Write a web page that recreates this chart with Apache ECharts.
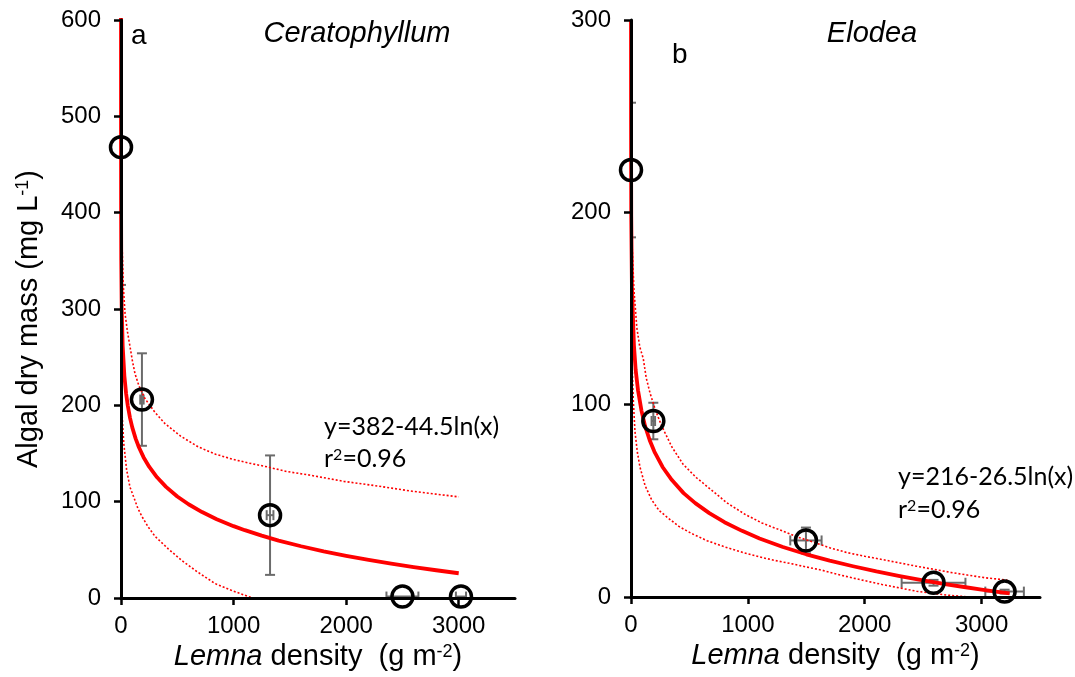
<!DOCTYPE html>
<html>
<head>
<meta charset="utf-8">
<script src="https://cdn.jsdelivr.net/npm/echarts@6/dist/echarts.min.js"></script>
<style>
html,body{margin:0;padding:0;background:#fff;}
#chart{width:1075px;height:677px;}
</style>
</head>
<body>
<div id="chart"></div>
<script>
// ---------- DATA ----------
// Panel a: Ceratophyllum
const ceratoX    = [0, 186, 1324, 2500, 3020];
const ceratoY    = [468, 206, 86, 1.5, 1.5];
const ceratoXErr = [0, 15, 30, 142, 45];
const ceratoYErr = [143, 48, 62, 0, 0];
const ceratoFit   = [[0.007,603],[0.02,556],[0.1,484.5],[0.5,412.8],[2,351.2],[6,302.3],[15,261.5],[30,230.6],[45,212.6],[60,199.8],[80,187],[100,177.1],[130,165.4],[160,156.2],[200,146.2],[250,136.3],[320,125.3],[400,115.4],[500,105.4],[600,97.3],[720,89.2],[850,81.8],[1000,74.6],[1100,70.4],[1250,64.7],[1400,59.6],[1600,53.7],[1800,48.4],[2000,43.8],[2200,39.5],[2400,35.6],[2600,32.1],[2800,28.8],[3000,25.7]];
const ceratoUpper = [[0.05,600],[1,470],[5,385],[20,325],[36,295],[58,276],[80,261],[100,247],[124,233],[160,220],[213,207],[300,193],[391,181],[530,168],[687,156.8],[840,149.3],[984,144.3],[1130,140.2],[1280,136.6],[1470,131.4],[1674,127.6],[1979,121.1],[2283,116.2],[2587,110.8],[2800,107.8],[3000,105]];
const ceratoLower = [[0.002,600],[0.02,450],[0.5,330],[3,230],[10,190],[25,160],[50,133],[80,115],[122,102],[150,93],[184,85],[240,74],[302,64],[420,51],[539,39],[680,27],[836,15],[980,8],[1132,1.5],[1170,0]];

// Panel b: Elodea
const elodeaX    = [0, 191, 1497, 2589, 3197];
const elodeaY    = [222, 91.5, 29.4, 7.4, 2.8];
const elodeaXErr = [0, 15, 134, 273, 165];
const elodeaYErr = [35, 9.5, 6.7, 1.5, 1];
const elodeaFit   = [[0.04,300],[0.3,248],[2,198],[8,161],[25,131],[40,118],[60,107.5],[90,96.8],[120,89],[160,81.5],[200,75.6],[270,67.6],[350,60.8],[450,54],[550,48.8],[670,43.6],[800,38.9],[950,34.4],[1100,30.4],[1300,26],[1500,22.2],[1700,18.9],[1900,16],[2100,13.3],[2300,10.9],[2500,8.7],[2700,6.6],[2850,5.2],[3000,3.8],[3120,2.8],[3240,1.9]];
const elodeaUpper = [[0.02,300],[0.5,250],[3,210],[10,182],[25,160],[50,140],[75,130],[105,124],[130,114],[163,106],[210,97],[262,89],[350,78],[446,69],[560,62],[681,56],[820,49],[975,43],[1120,38.5],[1268,35],[1410,31.5],[1562,28.5],[1700,25.6],[1855,23],[2000,21.2],[2149,19.5],[2300,17.7],[2443,16],[2590,14.4],[2736,12.8],[2880,11.4],[3030,10],[3220,8.8]];
const elodeaLower = [[0.005,300],[0.02,260],[0.5,200],[3,150],[10,120],[20,102],[34,86],[55,75],[77,67.5],[120,58],[177,50.5],[240,45],[319,41],[410,36.7],[519,33],[650,29.3],[804,26],[950,23.3],[1089,21],[1230,19],[1375,17.3],[1500,15.6],[1631,14],[1740,12.2],[1855,10.5],[2000,8.5],[2149,6.5],[2300,4.7],[2443,3],[2590,1.8],[2736,0.8],[2900,0]];

// Tick labels
const xTicks  = [0, 1000, 2000, 3000];
const yTicksA = [0, 100, 200, 300, 400, 500, 600];
const yTicksB = [0, 100, 200, 300];

// ---------- CHART ----------
const SANS = '"Liberation Sans", Arial, sans-serif';
const EQF = 'Lato, "Open Sans", sans-serif';
const chart = echarts.init(document.getElementById('chart'), null, {renderer:'canvas'});

function pts(xs, ys, xe, ye){ return xs.map((x,i)=>[x, ys[i], xe[i], ye[i]]); }

function errRender(params, api){
  const x = api.value(0), y = api.value(1), xe = api.value(2), ye = api.value(3);
  const style = {stroke:'#6b6b6b', lineWidth:2, fill:null};
  const ch = [];
  const cap = 5;
  if (ye > 0){
    const t = api.coord([x, y+ye]), b = api.coord([x, y-ye]);
    ch.push({type:'line', shape:{x1:t[0],y1:t[1],x2:b[0],y2:b[1]}, style});
    ch.push({type:'line', shape:{x1:t[0]-cap,y1:t[1],x2:t[0]+cap,y2:t[1]}, style});
    ch.push({type:'line', shape:{x1:b[0]-cap,y1:b[1],x2:b[0]+cap,y2:b[1]}, style});
  }
  if (xe > 0){
    const l = api.coord([x-xe, y]), r = api.coord([x+xe, y]);
    ch.push({type:'line', shape:{x1:l[0],y1:l[1],x2:r[0],y2:r[1]}, style});
    ch.push({type:'line', shape:{x1:l[0],y1:l[1]-cap,x2:l[0],y2:l[1]+cap}, style});
    ch.push({type:'line', shape:{x1:r[0],y1:r[1]-cap,x2:r[0],y2:r[1]+cap}, style});
  }
  return {type:'group', children:ch};
}

const axisLine = {show:true, onZero:false, lineStyle:{color:'#000', width:3}};
const axisTick = {show:true, length:7, lineStyle:{color:'#000', width:2.5}};
const plain = v => String(v);

function xAxisCfg(gi){
  return {
    type:'value', gridIndex:gi, min:0, max:3500, interval:1000, z:3,
    axisLine, axisTick:Object.assign({customValues:xTicks}, axisTick),
    axisLabel:{customValues:xTicks, formatter:plain, fontSize:24, color:'#000', fontFamily:SANS, margin:16},
    splitLine:{show:false},
    name:'{i|Lemna}{n| density  (g m}{s|-2}{n|)}', nameLocation:'middle', nameGap:39,
    nameTextStyle:{fontSize:29, color:'#000', fontFamily:SANS,
      rich:{i:{fontStyle:'italic', fontSize:29, fontFamily:SANS, color:'#000'},
            n:{fontSize:29, fontFamily:SANS, color:'#000'},
            s:{fontSize:18, fontFamily:SANS, color:'#000', verticalAlign:'top'}}}
  };
}
function yAxisCfg(gi, max, ticks, name){
  const c = {
    type:'value', gridIndex:gi, min:0, max:max, interval:100, z:3,
    axisLine, axisTick:Object.assign({customValues:ticks}, axisTick),
    axisLabel:{customValues:ticks, formatter:plain, fontSize:24, color:'#000', fontFamily:SANS, margin:20},
    splitLine:{show:false}
  };
  if (name){
    c.name = name; c.nameLocation='middle'; c.nameGap=78;
    c.nameTextStyle = {fontSize:29, color:'#000', fontFamily:SANS, padding:[0,20,0,0],
      rich:{n:{fontSize:29, fontFamily:SANS, color:'#000'},
            s:{fontSize:18, fontFamily:SANS, color:'#000', verticalAlign:'top'}}};
  }
  return c;
}

function lineS(gi, data, dotted){
  return {type:'line', xAxisIndex:gi, yAxisIndex:gi, data, showSymbol:false, symbol:'none',
    smooth:false, clip:true, silent:true, z:2,
    lineStyle: dotted ? {color:'#ff0000', width:1.6, type:[2,2]} : {color:'#ff0000', width:3.8, join:'round'}};
}
function errS(gi, data){
  return {type:'custom', xAxisIndex:gi, yAxisIndex:gi, data, renderItem:errRender, clip:true, z:2, silent:true};
}
function ptS(gi, data){
  return {type:'scatter', xAxisIndex:gi, yAxisIndex:gi, data:data.map(d=>[d[0],d[1]]),
    symbol:'circle', symbolSize:21, z:5, silent:true, clip:false,
    itemStyle:{color:'rgba(0,0,0,0)', borderColor:'#000', borderWidth:3.5, opacity:1}};
}

const dA = pts(ceratoX, ceratoY, ceratoXErr, ceratoYErr);
const dB = pts(elodeaX, elodeaY, elodeaXErr, elodeaYErr);

function txt(x, y, rich, text, align, font){
  return {type:'text', x, y, z:10, silent:true,
    style:{text, fontSize:font.size, fontFamily:font.family, fontStyle:font.style||'normal',
      fill:'#000', align:align||'left', verticalAlign:'middle', rich}};
}
const eqRich = {n:{fontSize:25, fontFamily:EQF, color:'#000'}, s:{fontSize:16, fontFamily:EQF, color:'#000', verticalAlign:'top'}};

chart.setOption({
  animation:false,
  backgroundColor:'#fff',
  grid:[
    {left:121, top:20, width:394, height:578},
    {left:631, top:20, width:409, height:577}
  ],
  xAxis:[xAxisCfg(0), xAxisCfg(1)],
  yAxis:[yAxisCfg(0, 600, yTicksA, '{n|Algal dry mass (mg L}{s|-1}{n|)}'), yAxisCfg(1, 300, yTicksB, null)],
  series:[
    lineS(0, ceratoUpper, true), lineS(0, ceratoLower, true), lineS(0, ceratoFit, false),
    errS(0, dA), ptS(0, dA),
    lineS(1, elodeaUpper, true), lineS(1, elodeaLower, true), lineS(1, elodeaFit, false),
    errS(1, dB), ptS(1, dB)
  ],
  graphic:[
    txt(131, 36, null, 'a', 'left', {size:28, family:SANS}),
    txt(357, 34, null, 'Ceratophyllum', 'center', {size:29, family:SANS, style:'italic'}),
    txt(672, 55, null, 'b', 'left', {size:28, family:SANS}),
    txt(872, 34, null, 'Elodea', 'center', {size:29, family:SANS, style:'italic'}),
    txt(324, 427, eqRich, '{n|y=382-44.5ln(x)}', 'left', {size:25, family:EQF}),
    txt(324, 459, eqRich, '{n|r}{s|2}{n|=0.96}', 'left', {size:25, family:EQF}),
    txt(898, 477, eqRich, '{n|y=216-26.5ln(x)}', 'left', {size:25, family:EQF}),
    txt(898, 510, eqRich, '{n|r}{s|2}{n|=0.96}', 'left', {size:25, family:EQF})
  ]
});
</script>
</body>
</html>
